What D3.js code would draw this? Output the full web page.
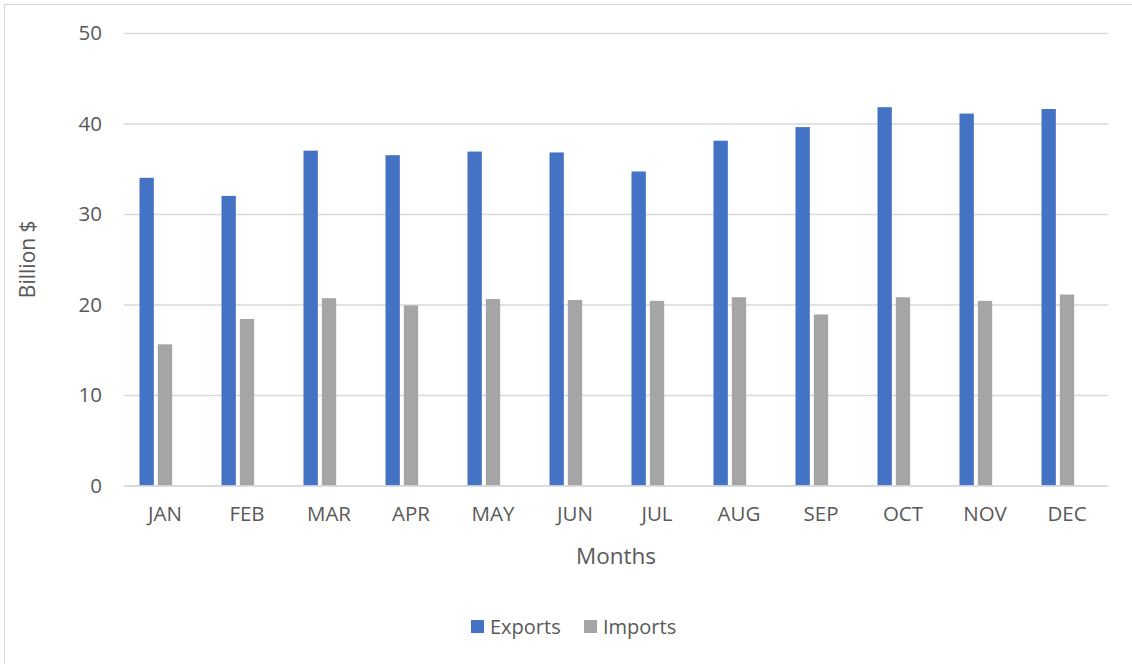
<!DOCTYPE html>
<html>
<head>
<meta charset="utf-8">
<script src="https://cdn.jsdelivr.net/npm/d3@7"></script>
<style>
  html, body { margin: 0; padding: 0; background: #fff; }
  svg { display: block; }
  svg text { font-family: "Open Sans", "Noto Sans", sans-serif; }
</style>
</head>
<body>
<svg id="chart" width="1132" height="664"></svg>
<script>
// Monthly trade, billion dollars
const months = ["JAN", "FEB", "MAR", "APR", "MAY", "JUN", "JUL", "AUG", "SEP", "OCT", "NOV", "DEC"];
const exportsValues = [34.0, 32.0, 37.0, 36.5, 36.9, 36.8, 34.7, 38.1, 39.6, 41.8, 41.1, 41.6];
const importsValues = [15.6, 18.4, 20.7, 19.9, 20.6, 20.5, 20.4, 20.8, 18.9, 20.8, 20.4, 21.1];
const seriesNames = ["Exports", "Imports"];
const seriesColors = ["#4472C4", "#A5A5A5"];
const yTicks = [0, 10, 20, 30, 40, 50];

const series = [exportsValues, importsValues];

const svg = d3.select("#chart");
const W = 1132, H = 664;
const plot = { left: 124, right: 1108, top: 33, bottom: 485.5 };
const textColor = "#595959";
const gridColor = "#d9d9d9";
const font = '"Open Sans", "Noto Sans", sans-serif';

// chart frame
svg.append("rect")
  .attr("x", 4.5).attr("y", 4.5)
  .attr("width", W + 10).attr("height", H + 10)
  .attr("fill", "#fff").attr("stroke", gridColor).attr("stroke-width", 1.2);

const x = d3.scaleBand()
  .domain(months)
  .range([plot.left, plot.right])
  .paddingInner(0.378)
  .paddingOuter(0.189);

// each cluster has room for three bars; the third slot stays empty
const xInner = d3.scaleBand()
  .domain([0, 1, 2])
  .range([0, x.bandwidth()])
  .paddingInner(0.218)
  .paddingOuter(0);

const y = d3.scaleLinear().domain([0, 50]).range([plot.bottom, plot.top]);

// horizontal gridlines
const yAxis = d3.axisLeft(y).tickValues(yTicks).tickSize(-(plot.right - plot.left)).tickPadding(22);
const gy = svg.append("g")
  .attr("transform", `translate(${plot.left},0)`)
  .call(yAxis)
  .attr("font-family", font)
  .attr("font-size", 20.5);
gy.select(".domain").remove();
gy.selectAll(".tick line").attr("stroke", gridColor).attr("stroke-width", 1.5);
gy.selectAll(".tick text").attr("fill", textColor);

// bars
months.forEach((m, i) => {
  series.forEach((vals, s) => {
    svg.append("rect")
      .attr("x", x(m) + xInner(s))
      .attr("y", y(vals[i]))
      .attr("width", xInner.bandwidth())
      .attr("height", y(0) - y(vals[i]))
      .attr("fill", seriesColors[s]);
  });
});

// x axis
const xAxis = d3.axisBottom(x).tickSize(0).tickPadding(21);
const gx = svg.append("g")
  .attr("transform", `translate(0,${plot.bottom})`)
  .call(xAxis)
  .attr("font-family", font)
  .attr("font-size", 20.5);
gx.select(".domain").attr("stroke", gridColor).attr("stroke-width", 1.5);
gx.selectAll(".tick text").attr("fill", textColor);

// axis titles
svg.append("text")
  .attr("x", (plot.left + plot.right) / 2)
  .attr("y", 564)
  .attr("text-anchor", "middle")
  .attr("fill", textColor)
  .style("font-size", "22.5px")
  .text("Months");

svg.append("text")
  .attr("transform", `translate(35,${(plot.top + plot.bottom) / 2}) rotate(-90)`)
  .attr("text-anchor", "middle")
  .attr("fill", textColor)
  .style("font-size", "21px")
  .text("Billion $");

// legend
const legendItems = [{ name: seriesNames[0], color: seriesColors[0], x: 471 },
                     { name: seriesNames[1], color: seriesColors[1], x: 584 }];
const lg = svg.append("g");
legendItems.forEach(d => {
  lg.append("rect").attr("x", d.x).attr("y", 620).attr("width", 13).attr("height", 13).attr("fill", d.color);
  lg.append("text").attr("x", d.x + 19).attr("y", 634)
    .attr("fill", textColor).style("font-size", "20px").text(d.name);
});
</script>
</body>
</html>
